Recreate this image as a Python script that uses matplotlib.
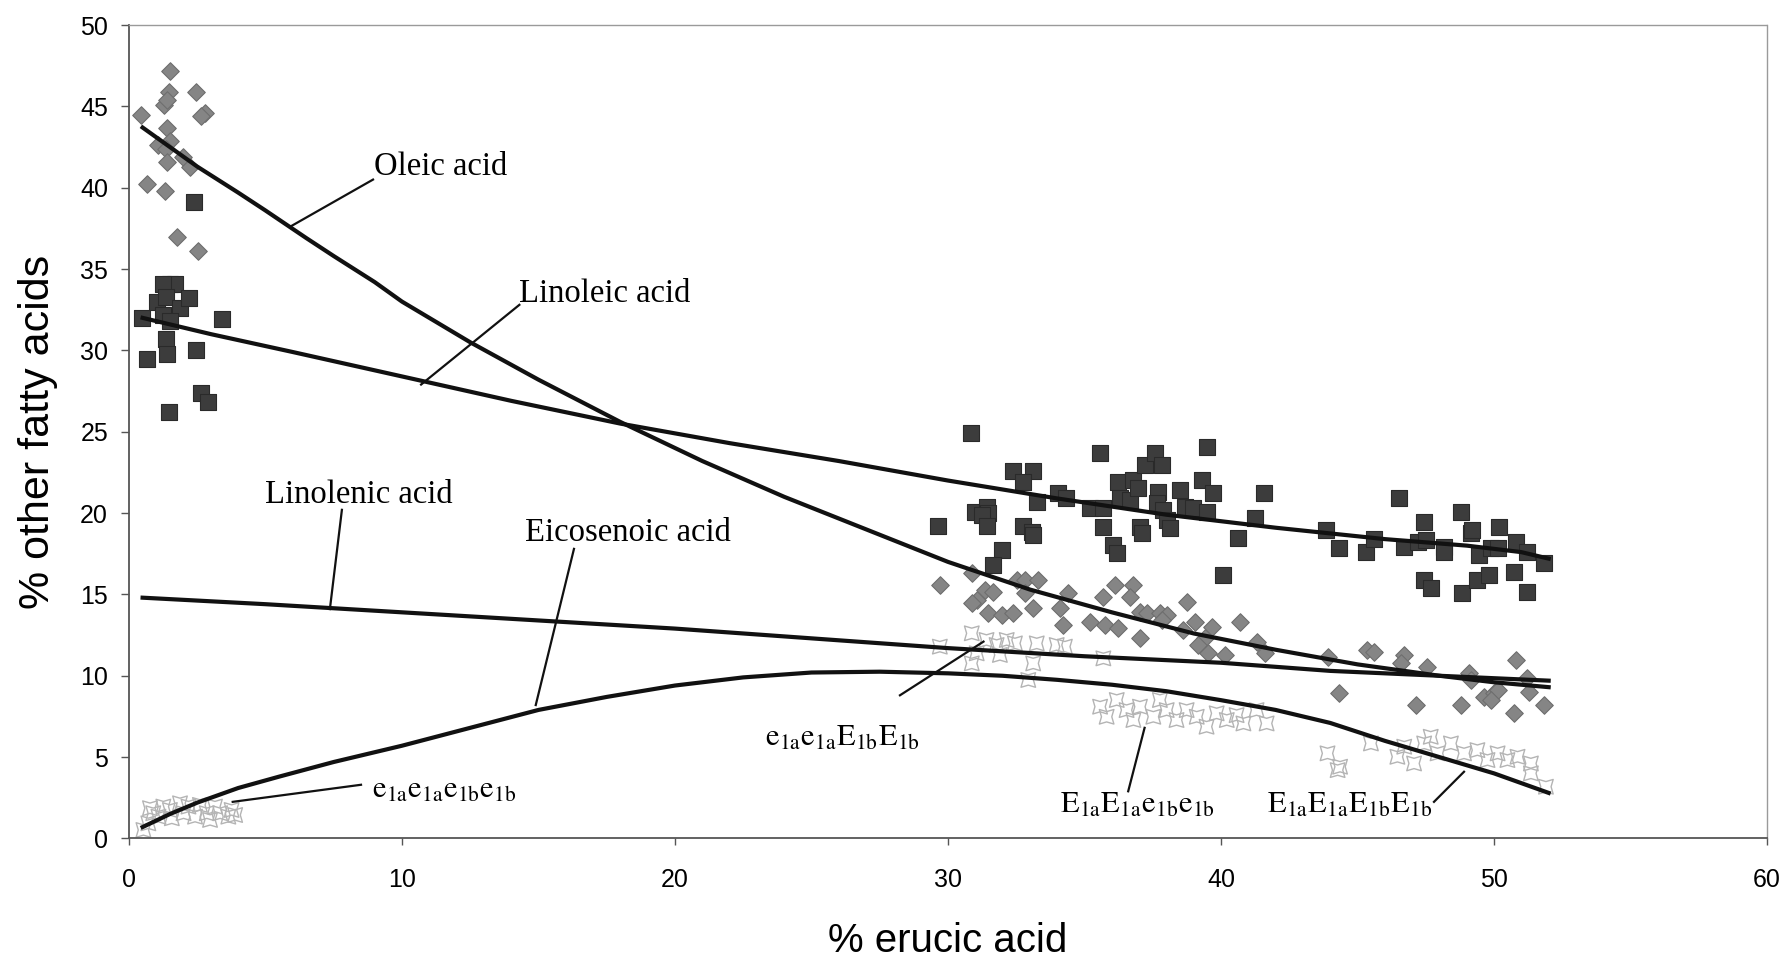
import matplotlib
matplotlib.use("Agg")
import matplotlib.pyplot as plt

plt.rcParams['mathtext.fontset'] = 'stix'

# ---------------- data ----------------
oleic_x = [0.45, 1.52, 1.47, 2.44, 1.27, 1.4, 2.8, 2.65, 1.4, 1.49, 1.07, 1.37, 1.98, 2.22, 1.4, 0.67, 1.31, 1.76, 2.53,
           29.71, 30.87, 31.05, 30.87, 31.35, 31.66, 31.48, 31.96, 32.39, 32.51, 32.82, 32.82, 33.31, 33.12, 34.1, 34.41,
           34.22, 35.2, 35.69, 35.75, 36.11, 36.79, 36.66, 37.03, 37.28, 37.76, 38.01, 37.82, 36.24, 37.03, 38.74, 39.05,
           38.62, 39.66, 39.41, 39.17, 39.53, 40.14, 40.69, 41.3, 41.61,
           43.9, 44.33, 45.36, 45.6, 46.71, 46.59, 47.56, 47.13, 48.78, 49.09, 49.15, 49.64, 50.0, 50.13, 49.88, 50.8,
           50.74, 51.22, 51.29, 51.84]
oleic_y = [44.5, 47.2, 45.9, 45.9, 45.1, 45.4, 44.6, 44.4, 43.7, 42.9, 42.6, 42.4, 41.9, 41.3, 41.6, 40.2, 39.8, 37.0, 36.1,
           15.58, 16.30, 14.65, 14.45, 15.27, 15.17, 13.83, 13.73, 13.83, 15.88, 15.88, 15.07, 15.88, 14.14, 14.14, 15.07,
           13.12, 13.32, 14.86, 13.12, 15.58, 15.58, 14.86, 13.94, 13.83, 13.83, 13.73, 13.42, 12.91, 12.30, 14.55, 13.32,
           12.81, 13.01, 12.30, 11.89, 11.38, 11.28, 13.32, 12.09, 11.38,
           11.17, 8.92, 11.58, 11.48, 11.27, 10.76, 10.56, 8.2, 8.2, 10.15, 9.74, 8.71, 8.92, 9.12, 8.51, 10.97,
           7.69, 9.84, 9.02, 8.2]

linoleic_x = [0.47, 0.65, 1.35, 1.38, 1.46, 2.45, 2.65, 2.9, 2.39, 1.5, 1.68, 1.26, 1.02, 1.35, 1.87, 2.21, 1.26, 1.5, 3.4,
              30.86, 29.62, 32.39, 33.12, 32.76, 30.99, 31.41, 31.48, 31.23, 31.41, 31.96, 31.66, 32.76, 33.06, 33.12,
              34.04, 34.34, 33.25, 35.57, 36.24, 36.30, 36.66, 36.79, 36.97, 37.03, 37.09, 35.69, 36.05, 36.18, 35.2,
              35.69, 37.21, 37.58, 37.82, 37.7, 37.64, 37.89, 38.01, 38.13, 38.5, 38.68, 38.99, 39.29, 39.47, 39.47,
              39.69, 40.06, 40.63, 41.24, 41.57,
              43.84, 44.33, 45.3, 45.6, 46.52, 46.71, 47.44, 47.2, 47.5, 48.17, 48.17, 47.44, 47.68, 48.78, 48.82,
              49.15, 49.21, 49.45, 49.39, 49.82, 49.88, 50.13, 50.19, 50.74, 50.8, 51.22, 51.22, 51.84]
linoleic_y = [32.0, 29.5, 30.7, 29.8, 26.2, 30.0, 27.4, 26.8, 39.1, 34.1, 34.1, 34.1, 33.0, 33.3, 32.6, 33.2, 32.2, 31.8, 31.9,
              24.90, 19.20, 22.61, 22.61, 21.93, 20.09, 20.39, 19.98, 19.88, 19.20, 17.73, 16.81, 19.20, 18.86, 18.65,
              21.25, 20.90, 20.70, 23.67, 21.93, 20.90, 20.80, 22.03, 21.52, 19.16, 18.75, 19.16, 18.04, 17.52, 20.29,
              20.29, 22.95, 23.67, 22.95, 21.31, 20.6, 20.19, 19.57, 19.06, 21.42, 20.39, 20.29, 22.03, 24.08, 20.09,
              21.25, 16.19, 18.45, 19.68, 21.25,
              18.96, 17.83, 17.63, 18.38, 20.9, 17.93, 19.47, 18.24, 18.34, 17.93, 17.63, 15.88, 15.37, 20.09, 15.06,
              18.75, 18.96, 17.42, 15.88, 16.19, 17.83, 17.83, 19.16, 16.40, 18.24, 17.63, 15.17, 16.91]

eico_x = [0.53, 0.71, 0.89, 0.77, 1.08, 1.26, 1.5, 1.57, 1.87, 2.0, 2.18, 2.42, 2.6, 2.85, 2.97, 3.15, 3.34, 3.64, 3.76, 3.89,
          29.7, 30.87, 31.05, 30.87, 31.41, 31.78, 31.9, 32.15, 32.45, 32.94, 33.12, 33.25, 33.98, 34.28, 35.69,
          35.57, 35.81, 36.18, 36.54, 36.79, 37.03, 37.52, 37.76, 38.01, 38.37, 38.74, 39.11, 39.47, 39.84, 40.21,
          40.57, 40.82, 41.3, 41.67,
          43.9, 44.27, 44.36, 45.49, 46.46, 46.71, 47.07, 47.44, 47.68, 47.93, 48.42, 48.9, 49.39, 49.76, 50.13,
          50.49, 50.86, 51.35, 51.35, 51.9]
eico_y = [0.52, 0.93, 1.55, 1.86, 1.34, 1.96, 1.75, 1.24, 2.16, 1.55, 1.96, 1.34, 2.06, 1.55, 1.14, 1.96, 1.55, 1.34, 1.75, 1.44,
          11.79, 12.61, 11.38, 10.76, 12.2, 11.89, 11.28, 12.2, 11.99, 9.74, 10.76, 11.99, 11.89, 11.79, 11.07,
          8.1, 7.48, 8.51, 7.89, 7.28, 8.1, 7.48, 8.51, 7.89, 7.28, 7.89, 7.48, 6.87, 7.69, 7.28,
          7.58, 7.07, 7.89, 7.07,
          5.23, 4.2, 4.41, 5.84, 5.02, 5.64, 4.61, 5.84, 6.25, 5.23, 5.84, 5.23, 5.43, 4.82, 5.23,
          4.82, 5.02, 4.61, 4.0, 3.18]

# trend curves
oleic_fit_x = [0.5, 1.5, 2.5, 4, 5, 6.5, 7.5, 9, 10, 12.5, 15, 18, 21, 24, 27, 30, 33, 36, 39, 42, 45, 48, 50, 52]
oleic_fit_y = [43.7, 42.5, 41.3, 39.7, 38.6, 36.9, 35.8, 34.2, 33.0, 30.5, 28.2, 25.6, 23.2, 21.0, 19.0, 17.0, 15.3,
               13.9, 12.6, 11.6, 10.7, 10.0, 9.6, 9.3]
linoleic_fit_x = [0.5, 3, 6, 10, 14, 18, 22, 26, 30, 34, 38, 42, 46, 49, 51, 52]
linoleic_fit_y = [32.0, 31.0, 29.9, 28.4, 26.9, 25.5, 24.3, 23.2, 22.0, 20.9, 19.9, 19.1, 18.4, 18.0, 17.6, 17.2]
linolenic_fit_x = [0.5, 5, 10, 15, 20, 25, 30, 35, 40, 44, 48, 52]
linolenic_fit_y = [14.8, 14.4, 13.9, 13.4, 12.9, 12.3, 11.7, 11.2, 10.8, 10.3, 10.0, 9.7]
eico_fit_x = [0.5, 1.5, 2.5, 4, 5.5, 7.5, 10, 12.5, 15, 17.5, 20, 22.5, 25, 27.5, 30, 32, 34, 36, 38, 40, 42, 44,
              46, 48, 50, 51, 52]
eico_fit_y = [0.7, 1.5, 2.2, 3.1, 3.8, 4.7, 5.7, 6.8, 7.9, 8.7, 9.4, 9.9, 10.2, 10.25, 10.15, 10.0, 9.75, 9.45,
              9.05, 8.5, 7.9, 7.1, 6.0, 5.0, 4.0, 3.4, 2.8]

x_ticks = [0, 10, 20, 30, 40, 50, 60]
y_ticks = [0, 5, 10, 15, 20, 25, 30, 35, 40, 45, 50]

# labels: (text, text_x, text_y, leader_from, leader_to)
acid_labels = [
    ("Oleic acid", 8.97, 41.3, (8.94, 40.5), (5.9, 37.6)),
    ("Linoleic acid", 14.3, 33.5, (14.3, 32.8), (10.7, 27.9)),
    ("Linolenic acid", 5.0, 21.1, (7.8, 20.2), (7.36, 14.1)),
    ("Eicosenoic acid", 14.5, 18.8, (16.3, 17.8), (14.9, 8.2)),
]
geno_labels = [
    (r"$\mathrm{e_{1a}e_{1a}e_{1b}e_{1b}}$", 8.9, 3.0, (8.5, 3.3), (3.8, 2.25)),
    (r"$\mathrm{e_{1a}e_{1a}E_{1b}E_{1b}}$", 23.3, 6.2, (28.24, 8.8), (31.3, 12.1)),
    (r"$\mathrm{E_{1a}E_{1a}e_{1b}e_{1b}}$", 34.1, 2.1, (36.6, 2.9), (37.2, 6.8)),
    (r"$\mathrm{E_{1a}E_{1a}E_{1b}E_{1b}}$", 41.7, 2.1, (47.8, 2.25), (48.9, 4.1)),
]

# ---------------- figure ----------------
fig = plt.figure(figsize=(17.86, 9.59), dpi=100)
ax = fig.add_axes([0.0722, 0.1257, 0.9172, 0.8482])

ax.scatter(eico_x, eico_y, marker=(4, 1, 45), s=220, facecolors='none',
           edgecolors='#b4b4b4', linewidths=1.0, zorder=2)
ax.scatter(oleic_x, oleic_y, marker='D', s=80, color='#858585', edgecolors='#6e6e6e',
           linewidths=0.8, zorder=3)
ax.scatter(linoleic_x, linoleic_y, marker='s', s=120, color='#3c3c3c', edgecolors='#2a2a2a',
           linewidths=0.8, zorder=3)

for fx, fy in [(oleic_fit_x, oleic_fit_y), (linoleic_fit_x, linoleic_fit_y),
               (linolenic_fit_x, linolenic_fit_y), (eico_fit_x, eico_fit_y)]:
    ax.plot(fx, fy, color='#111111', lw=3.0, solid_joinstyle='round', zorder=4)

for txt, tx, ty, p0, p1 in acid_labels:
    ax.text(tx, ty, txt, family='Liberation Serif', fontsize=23.5, va='center', ha='left', zorder=5)
    ax.plot([p0[0], p1[0]], [p0[1], p1[1]], color='#111111', lw=1.6, zorder=5)

for txt, tx, ty, p0, p1 in geno_labels:
    ax.text(tx, ty, txt, fontsize=22, va='center', ha='left', zorder=5)
    ax.plot([p0[0], p1[0]], [p0[1], p1[1]], color='#111111', lw=1.6, zorder=5)

ax.set_xlim(0, 60)
ax.set_ylim(0, 50)
ax.set_xticks(x_ticks)
ax.set_yticks(y_ticks)
ax.tick_params(axis='y', direction='out', length=6, width=1, color='#555555', pad=9,
               labelsize=18)
ax.tick_params(axis='x', direction='out', length=5, width=1, color='#555555', pad=16,
               labelsize=18)
for lab in ax.get_xticklabels() + ax.get_yticklabels():
    lab.set_family('Liberation Sans')

for side in ['left', 'bottom']:
    ax.spines[side].set_color('#555555')
    ax.spines[side].set_linewidth(1.3)
for side in ['top', 'right']:
    ax.spines[side].set_color('#9a9a9a')
    ax.spines[side].set_linewidth(1.0)
    ax.spines[side].set_linestyle((0, (3, 1)))

ax.set_xlabel('% erucic acid', family='Liberation Sans', fontsize=29, labelpad=22)
ax.set_ylabel('% other fatty acids', family='Liberation Sans', fontsize=31, labelpad=16)

fig.savefig('out.png', dpi=100)
